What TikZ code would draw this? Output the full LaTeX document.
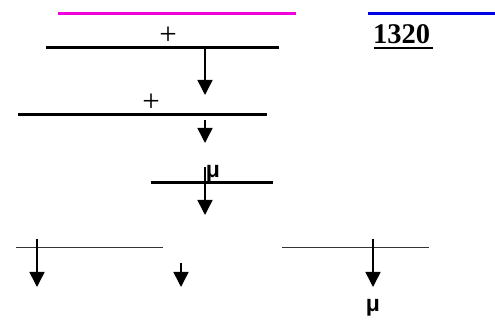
\documentclass[tikz,border=0pt]{standalone}
\usepackage{fontspec}
\setmainfont{Liberation Serif}
\newfontfamily\musans{Liberation Sans}
\usetikzlibrary{arrows.meta}
\definecolor{magline}{RGB}{240,0,220}
\definecolor{blueline}{RGB}{0,0,230}
\tikzset{
  thickbar/.style={line width=3pt,black},
  thinbar/.style={line width=1pt,black!80},
  colbar/.style={line width=3pt},
  downarrow/.style={line width=1.5pt,-{Triangle[length=15pt,width=15pt]}},
  plustext/.style={inner sep=0pt,font=\fontsize{31}{31}\selectfont},
  mutext/.style={inner sep=0pt,anchor=base,font=\musans\bfseries\fontsize{23}{23}\selectfont},
  numtext/.style={inner sep=0pt,anchor=base west,font=\bfseries\fontsize{28.5}{28.5}\selectfont}
}
\begin{document}
\begin{tikzpicture}[x=1pt,y=-1pt]
\useasboundingbox (0,0) rectangle (495,320);
% top coloured lines
\coordinate (m1) at (58,14); \coordinate (m2) at (296,14);
\coordinate (b1) at (368,14); \coordinate (b2) at (495,14);
\draw[colbar,magline] (m1) -- (m2);
\draw[colbar,blueline] (b1) -- (b2);
% 1320
\node[numtext] (num) at (373,43.5) {1320};
\coordinate (u1) at (374,48.5); \coordinate (u2) at (433,48.5);
\draw[line width=2pt] (u1) -- (u2);
% first bar
\node[plustext] (p1) at (168,36) {+};
\coordinate (l1a) at (46,48); \coordinate (l1b) at (279,48);
\draw[thickbar] (l1a) -- (l1b);
\coordinate (a1s) at (205,49); \coordinate (a1e) at (205,95);
\draw[downarrow] (a1s) -- (a1e);
% second bar
\node[plustext] (p2) at (151,103) {+};
\coordinate (l2a) at (18,115); \coordinate (l2b) at (267,115);
\draw[thickbar] (l2a) -- (l2b);
\coordinate (a2s) at (205,120); \coordinate (a2e) at (205,143);
\draw[downarrow] (a2s) -- (a2e);
% third bar
\node[mutext] (mu1) at (213,178) {μ};
\coordinate (l3a) at (151,183); \coordinate (l3b) at (273,183);
\draw[thickbar] (l3a) -- (l3b);
\coordinate (a3s) at (205,167); \coordinate (a3e) at (205,215);
\draw[downarrow] (a3s) -- (a3e);
% bottom row
\coordinate (l4a) at (16,248); \coordinate (l4b) at (163,248);
\draw[thinbar] (l4a) -- (l4b);
\coordinate (a4s) at (37,239); \coordinate (a4e) at (37,287);
\draw[downarrow] (a4s) -- (a4e);
\coordinate (a5s) at (181,263); \coordinate (a5e) at (181,287);
\draw[downarrow] (a5s) -- (a5e);
\coordinate (l5a) at (282,248); \coordinate (l5b) at (429,248);
\draw[thinbar] (l5a) -- (l5b);
\coordinate (a6s) at (373,239); \coordinate (a6e) at (373,287);
\draw[downarrow] (a6s) -- (a6e);
\node[mutext] (mu2) at (373,311) {μ};
\end{tikzpicture}
\end{document}
